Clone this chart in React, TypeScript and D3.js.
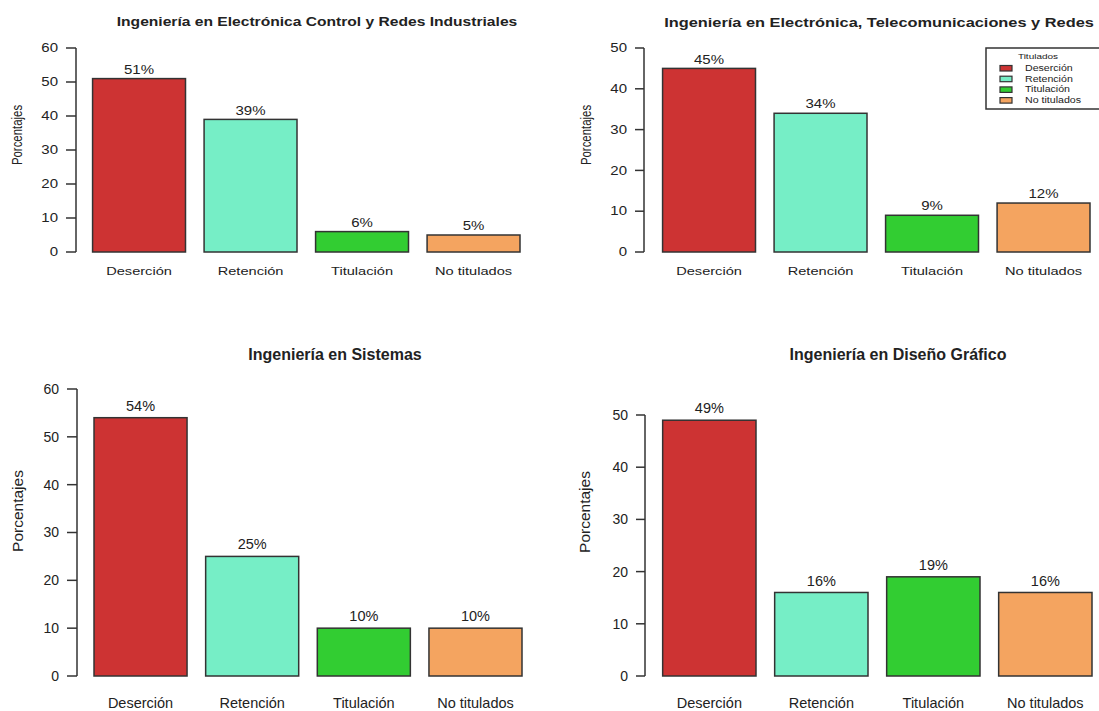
import React from "react";
import * as d3 from "d3";

const categories = ["Deserción", "Retención", "Titulación", "No titulados"];
const colors = ["#CD3333", "#76EEC6", "#32CD32", "#F4A460"];

const titleECRI = "Ingeniería en Electrónica Control y Redes Industriales";
const valuesECRI = [51, 39, 6, 5];
const ticksECRI = [0, 10, 20, 30, 40, 50, 60];

const titleETR = "Ingeniería en Electrónica, Telecomunicaciones y Redes";
const valuesETR = [45, 34, 9, 12];
const ticksETR = [0, 10, 20, 30, 40, 50];

const titleSis = "Ingeniería en Sistemas";
const valuesSis = [54, 25, 10, 10];
const ticksSis = [0, 10, 20, 30, 40, 50, 60];

const titleDG = "Ingeniería en Diseño Gráfico";
const valuesDG = [49, 16, 19, 16];
const ticksDG = [0, 10, 20, 30, 40, 50];

const legendTitle = "Titulados";
const yLabel = "Porcentajes";

const FONT = "'Liberation Sans', Arial, Helvetica, sans-serif";
const TXT = "#222";
const STROKE = "#333";

type STextProps = {
  x: number;
  y: number;
  sx: number;
  size: number;
  anchor?: "start" | "middle" | "end";
  bold?: boolean;
  children: React.ReactNode;
};

function SText({ x, y, sx, size, anchor = "middle", bold, children }: STextProps) {
  return (
    <text
      transform={`translate(${x},${y}) scale(${sx},1)`}
      dy="0.35em"
      textAnchor={anchor}
      fontFamily={FONT}
      fontSize={size}
      fontWeight={bold ? "bold" : "normal"}
      fill={TXT}
    >
      {children}
    </text>
  );
}

type PanelCfg = {
  title: string;
  values: number[];
  ticks: number[];
  yMax: number;
  x0: number;
  x1: number;
  y0: number;
  yTop: number;
  axisX: number;
  titleX: number;
  titleY: number;
  ylabX: number;
  ylabY: number;
  sx: number;
  titleSize: number;
  tickSize: number;
  catSize: number;
  valSize: number;
  ylabSize: number;
  catY: number;
  tickLen: number;
  valOff: number;
  legend?: boolean;
};

function Panel({ c }: { c: PanelCfg }) {
  const x = d3.scaleLinear().domain([0, 4.8]).range([c.x0, c.x1]);
  const y = d3.scaleLinear().domain([0, c.yMax]).range([c.y0, c.yTop]);
  return (
    <g>
      <SText x={c.titleX} y={c.titleY} sx={c.sx} size={c.titleSize} bold>
        {c.title}
      </SText>
      <line x1={c.axisX} x2={c.axisX} y1={y(0)} y2={y(c.yMax)} stroke={STROKE} strokeWidth={1.5} />
      {c.ticks.map((t) => (
        <g key={t}>
          <line x1={c.axisX - c.tickLen} x2={c.axisX} y1={y(t)} y2={y(t)} stroke={STROKE} strokeWidth={1.5} />
          <SText x={c.axisX - c.tickLen - 8} y={y(t)} sx={c.sx} size={c.tickSize} anchor="end">
            {t}
          </SText>
        </g>
      ))}
      <text
        transform={`translate(${c.ylabX},${c.ylabY}) rotate(-90) scale(1,${c.sx})`}
        dy="0.35em"
        textAnchor="middle"
        fontFamily={FONT}
        fontSize={c.ylabSize}
        fill={TXT}
      >
        {yLabel}
      </text>
      {categories.map((cat, i) => {
        const l = x(0.2 + 1.2 * i);
        const r = x(1.2 + 1.2 * i);
        const v = c.values[i];
        const cx = (l + r) / 2;
        return (
          <g key={cat}>
            <rect x={l} y={y(v)} width={r - l} height={y(0) - y(v)} fill={colors[i]} stroke={STROKE} strokeWidth={1.5} />
            <SText x={cx} y={y(v) - c.valOff} sx={c.sx} size={c.valSize}>
              {v}%
            </SText>
            <SText x={cx} y={c.catY} sx={c.sx} size={c.catSize}>
              {cat}
            </SText>
          </g>
        );
      })}
      {c.legend && (
        <g>
          <rect x={986} y={48} width={130} height={61} fill="white" stroke={STROKE} strokeWidth={1.5} />
          <SText x={1038} y={56} sx={c.sx} size={8}>
            {legendTitle}
          </SText>
          {categories.map((cat, i) => (
            <g key={cat}>
              <rect x={1000} y={65.5 + i * 10.7} width={12} height={5.5} fill={colors[i]} stroke={STROKE} strokeWidth={1.2} />
              <SText x={1025} y={68 + i * 10.7} sx={c.sx} size={8.5} anchor="start">
                {cat}
              </SText>
            </g>
          ))}
        </g>
      )}
    </g>
  );
}

const panels: PanelCfg[] = [
  {
    title: titleECRI, values: valuesECRI, ticks: ticksECRI, yMax: 60,
    x0: 74, x1: 520, y0: 252, yTop: 48, axisX: 76, titleX: 317, titleY: 22, ylabX: 17, ylabY: 135,
    sx: 1.25, titleSize: 12.5, tickSize: 12, catSize: 11.7, valSize: 12, ylabSize: 11.4,
    catY: 271, tickLen: 10, valOff: 9,
  },
  {
    title: titleETR, values: valuesETR, ticks: ticksETR, yMax: 50,
    x0: 644, x1: 1090, y0: 252, yTop: 48, axisX: 644, titleX: 879, titleY: 22, ylabX: 586, ylabY: 135,
    sx: 1.25, titleSize: 13.1, tickSize: 12, catSize: 11.7, valSize: 12, ylabSize: 11.4,
    catY: 271, tickLen: 9, valOff: 9, legend: true,
  },
  {
    title: titleSis, values: valuesSis, ticks: ticksSis, yMax: 60,
    x0: 75.4, x1: 522, y0: 676, yTop: 389, axisX: 77, titleX: 335, titleY: 354, ylabX: 18, ylabY: 511,
    sx: 1, titleSize: 16, tickSize: 14, catSize: 14.5, valSize: 14.5, ylabSize: 15.5,
    catY: 703, tickLen: 10, valOff: 12,
  },
  {
    title: titleDG, values: valuesDG, ticks: ticksDG, yMax: 50,
    x0: 644, x1: 1092, y0: 676, yTop: 415, axisX: 645, titleX: 898, titleY: 354, ylabX: 585, ylabY: 512,
    sx: 1, titleSize: 16, tickSize: 14, catSize: 14.5, valSize: 14.5, ylabSize: 15.5,
    catY: 703, tickLen: 9, valOff: 12,
  },
];

export default function App() {
  return (
    <svg width={1099} height={711} style={{ position: "absolute", left: 0, top: 0, background: "white" }}>
      <rect x={0} y={0} width={1099} height={711} fill="white" />
      {panels.map((p, i) => (
        <Panel key={i} c={p} />
      ))}
    </svg>
  );
}
